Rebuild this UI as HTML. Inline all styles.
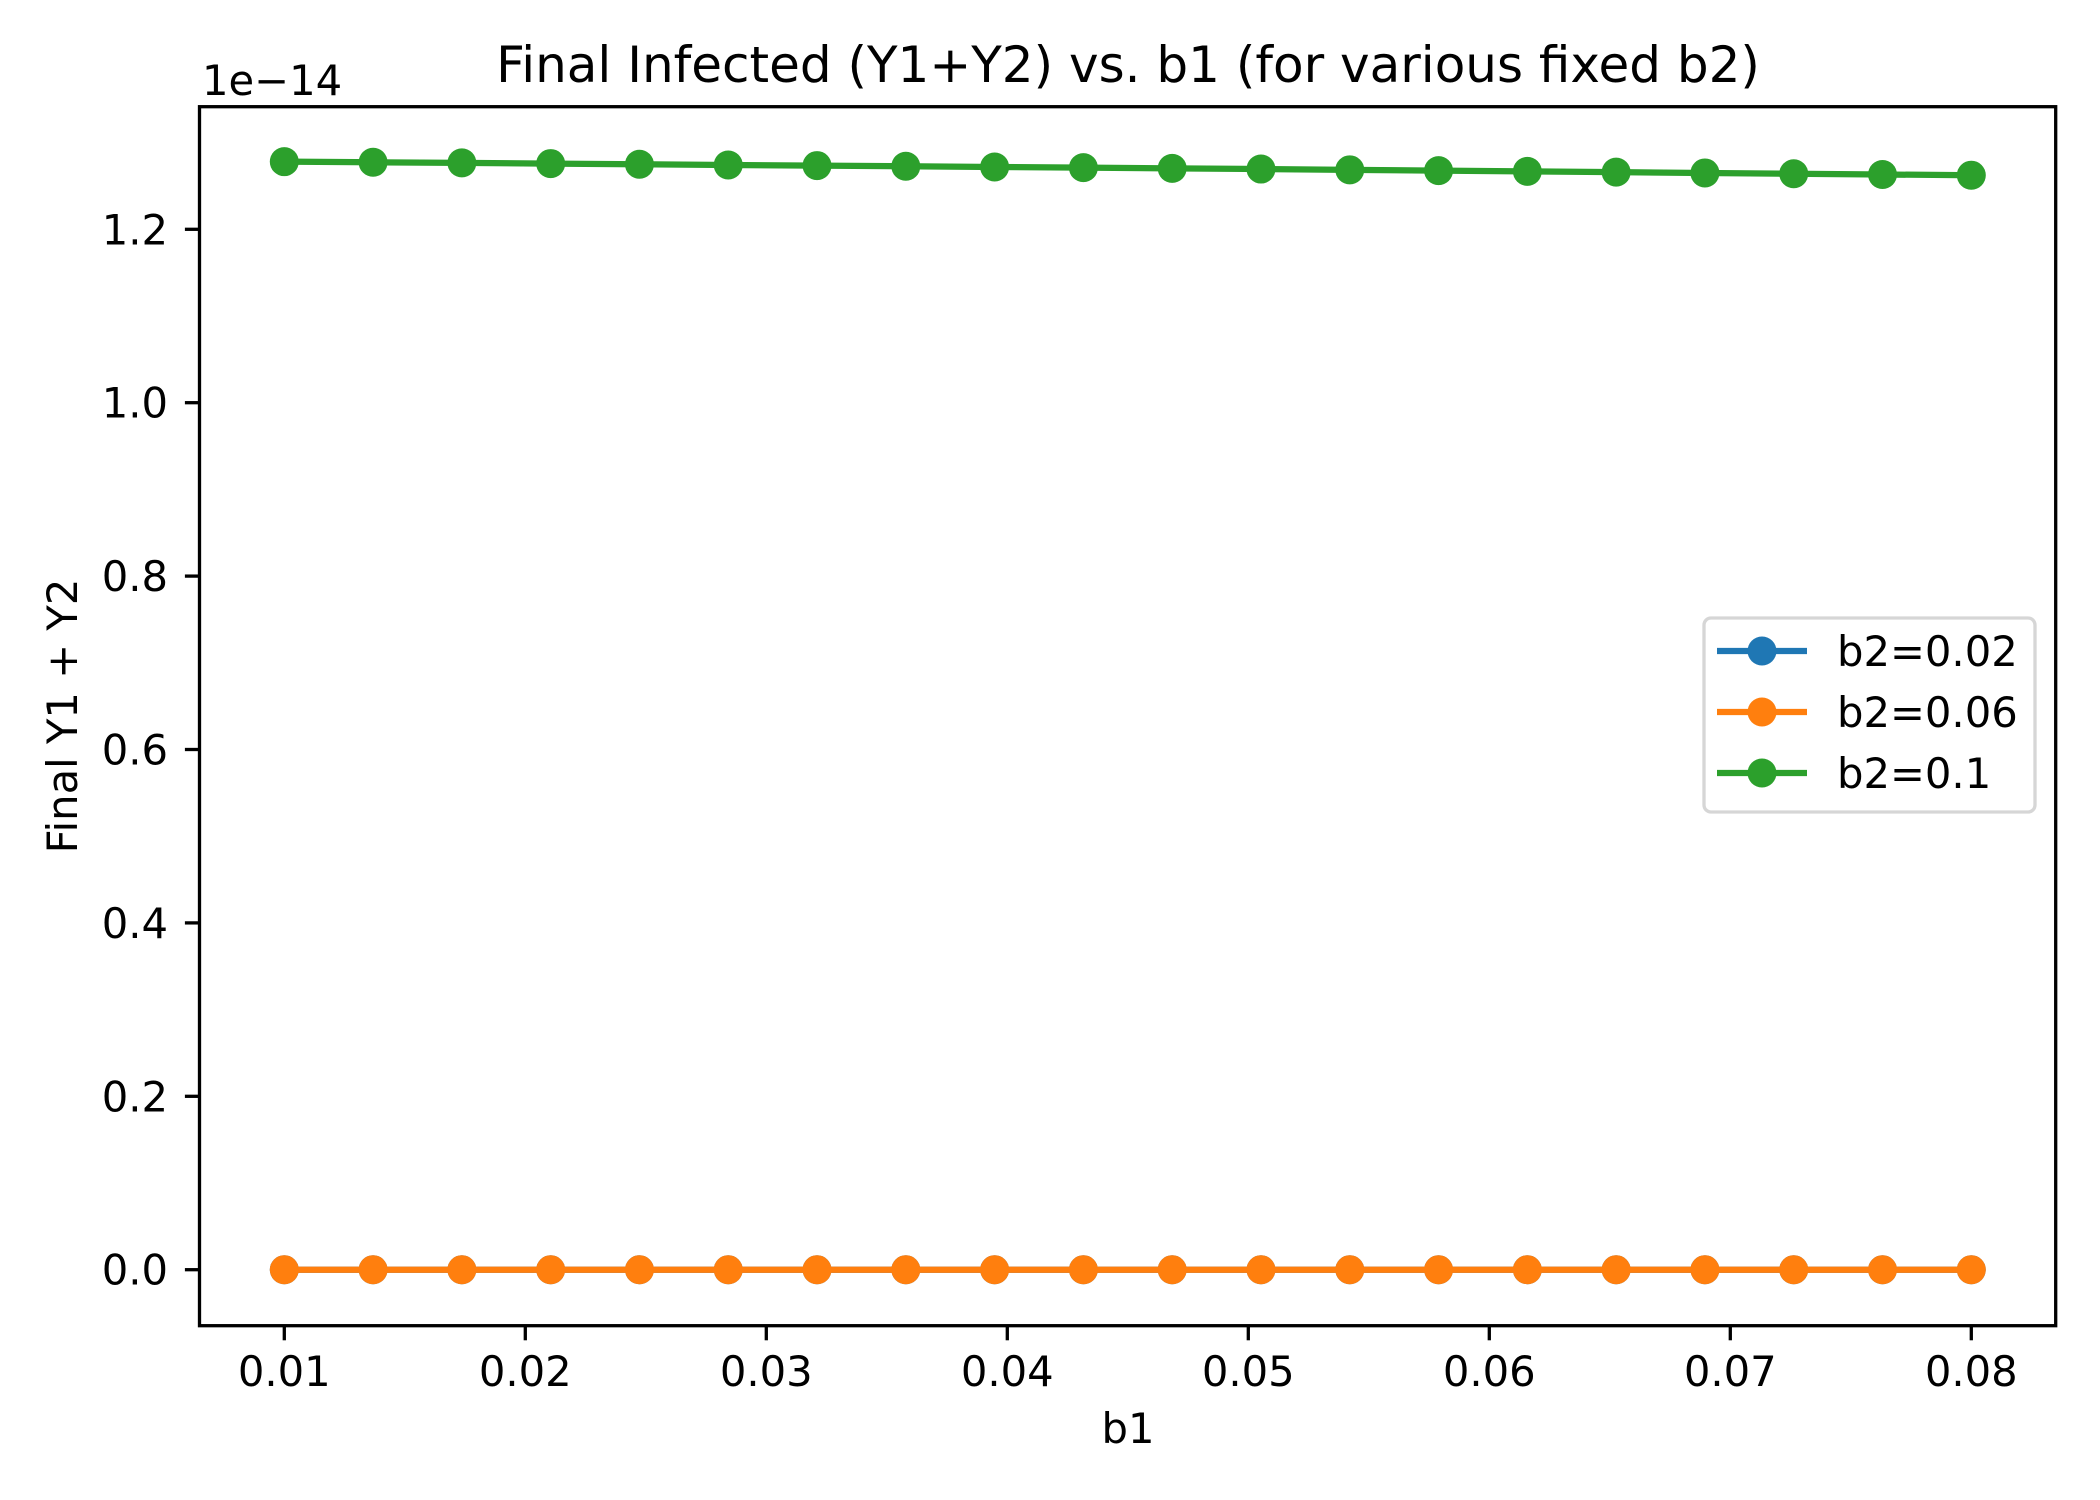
<!DOCTYPE html>
<html><head><meta charset="utf-8"><style>
html,body{margin:0;padding:0;background:#fff;}
svg{display:block;font-family:"DejaVu Sans","Liberation Sans",sans-serif;}
</style></head><body>
<svg id="chart" width="2100" height="1500" viewBox="0 0 2100 1500">
<rect x="0" y="0" width="2100" height="1500" fill="#fff"/>
<g id="plot"></g>
<text x="1128" y="82" font-size="50" text-anchor="middle">Final Infected (Y1+Y2) vs. b1 (for various fixed b2)</text>
<text x="1128" y="1443" font-size="41.7" text-anchor="middle">b1</text>
<text transform="translate(77,716) rotate(-90)" font-size="41.7" text-anchor="middle">Final Y1 + Y2</text>
<text x="202" y="95" font-size="41.7">1e−14</text>
</svg>
<script>
const xValues = [0.01,0.013684,0.017368,0.021053,0.024737,0.028421,0.032105,0.035789,0.039474,0.043158,0.046842,0.050526,0.054211,0.057895,0.061579,0.065263,0.068947,0.072632,0.076316,0.08];
const seriesB002 = [0,0,0,0,0,0,0,0,0,0,0,0,0,0,0,0,0,0,0,0];
const seriesB006 = [0,0,0,0,0,0,0,0,0,0,0,0,0,0,0,0,0,0,0,0];
const seriesB01 = [1.278,1.2773,1.2766,1.2758,1.275,1.2742,1.2735,1.2727,1.2719,1.2711,1.2703,1.2695,1.2686,1.2677,1.2668,1.2659,1.265,1.2641,1.2632,1.2624];
const seriesLabels = ["b2=0.02","b2=0.06","b2=0.1"];
const seriesColors = ["#1f77b4","#ff7f0e","#2ca02c"];
const xTicks = [0.01,0.02,0.03,0.04,0.05,0.06,0.07,0.08];
const xTickLabels = ["0.01","0.02","0.03","0.04","0.05","0.06","0.07","0.08"];
const yTicks = [0,0.2,0.4,0.6,0.8,1.0,1.2];
const yTickLabels = ["0.0","0.2","0.4","0.6","0.8","1.0","1.2"];

const NS = "http://www.w3.org/2000/svg";
const L = 199.5, R = 2055.7, T = 106.7, B = 1325.7;
function xs(v){ return 284.3 + (v - 0.01) * (1971.3 - 284.3) / 0.07; }
function ys(v){ return 1269.7 - v * 867; }
const plot = document.getElementById('plot');
function mk(tag, attrs, parent){
  const e = document.createElementNS(NS, tag);
  for (const k in attrs) e.setAttribute(k, attrs[k]);
  (parent || plot).appendChild(e);
  return e;
}
const allSeries = [seriesB002, seriesB006, seriesB01];
allSeries.forEach((s, i) => {
  const g = mk('g', {});
  
  
  const pts = s.map((v, j) => xs(xValues[j]).toFixed(2) + ',' + ys(v).toFixed(2)).join(' ');
  const pl = mk('polyline', {points: pts, fill: 'none', stroke: seriesColors[i], 'stroke-width': 6.25, 'stroke-linejoin': 'round', 'stroke-linecap': 'square'}, g);
  
  
  s.forEach((v, j) => {
    const c = mk('circle', {cx: xs(xValues[j]), cy: ys(v), r: 14.5, fill: seriesColors[i]}, g);
    
    
  });
});
const frame = mk('rect', {x: L, y: T, width: R - L, height: B - T, fill: 'none', stroke: '#000', 'stroke-width': 3.3});


xTicks.forEach((v, i) => {
  const x = xs(v);
  const t = mk('line', {x1: x, x2: x, y1: B, y2: B + 14.6, stroke: '#000', 'stroke-width': 3.3});
  
  
  const tx = mk('text', {x: x, y: 1386, 'font-size': 41.7, 'text-anchor': 'middle'});
  tx.textContent = xTickLabels[i];
  
  
});
yTicks.forEach((v, i) => {
  const y = ys(v);
  const t = mk('line', {x1: L - 14.6, x2: L, y1: y, y2: y, stroke: '#000', 'stroke-width': 3.3});
  
  
  const tx = mk('text', {x: 168, y: y + 15, 'font-size': 41.7, 'text-anchor': 'end'});
  tx.textContent = yTickLabels[i];
  
  
});
const lg = mk('g', {});


mk('rect', {x: 1704, y: 618, width: 331, height: 194, rx: 7, fill: '#fff', 'fill-opacity': 0.8, stroke: '#d6d6d6', 'stroke-width': 3.3}, lg);
seriesLabels.forEach((lab, i) => {
  const y = 651 + i * 61;
  const e = mk('g', {}, lg);
  
  
  mk('line', {x1: 1717, x2: 1807, y1: y, y2: y, stroke: seriesColors[i], 'stroke-width': 6.25}, e);
  mk('circle', {cx: 1762, cy: y, r: 14.5, fill: seriesColors[i]}, e);
  const t = mk('text', {x: 1837, y: y + 15, 'font-size': 41.7}, e);
  t.textContent = lab;
});
</script>
</body></html>
